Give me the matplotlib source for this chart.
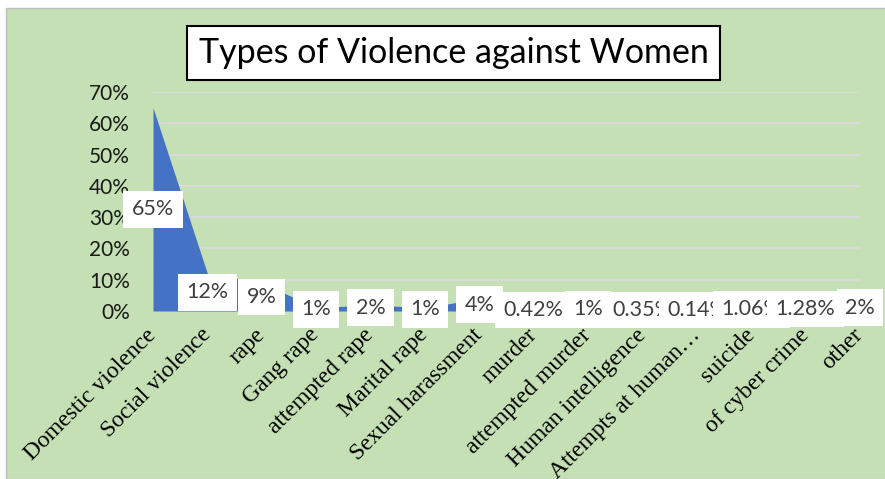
import matplotlib.pyplot as plt
from matplotlib.patches import Rectangle
import numpy as np

categories = ['Domestic violence', 'Social violence', 'rape', 'Gang rape',
              'attempted rape', 'Marital rape', 'Sexual harassment', 'murder',
              'attempted murder', 'Human intelligence', 'Attempts at human…',
              'suicide', 'of cyber crime', 'other']
values = [65, 12, 9, 1, 2, 1, 4, 0.42, 1, 0.35, 0.14, 1.06, 1.28, 2]
value_labels = ['65%', '12%', '9%', '1%', '2%', '1%', '4%', '0.42%', '1%',
                '0.35%', '0.14%', '1.06%', '1.28%', '2%']
yticks = [0, 10, 20, 30, 40, 50, 60, 70]

green = '#C5E0B4'
blue = '#4472C4'

fig = plt.figure(figsize=(8.85, 4.79), dpi=100)
fig.patch.set_facecolor('white')
# fond vert du graphique
fig.patches.append(Rectangle((6 / 885, 0), 1, 1 - 8 / 479, transform=fig.transFigure,
                             facecolor=green, edgecolor='#BFBFBF', linewidth=1, zorder=-10))

ax = fig.add_axes([153 / 885, 1 - 311 / 479, 707 / 885, 219 / 479])
ax.set_facecolor('none')
x = np.arange(len(categories))
ax.fill_between(x, values, 0, color=blue, linewidth=0, zorder=2)

ax.set_xlim(0, len(categories) - 1)
ax.set_ylim(0, 70)
ax.set_yticks(yticks)
ax.set_yticklabels([f'{t}%' for t in yticks], family='Lato', fontsize=15, color='#1a1a1a')
for t in yticks[1:]:
    ax.axhline(t, color='#D9D9D9', linewidth=1.6, zorder=1)
for s in ax.spines.values():
    s.set_visible(False)
ax.tick_params(axis='both', length=0)
ax.tick_params(axis='y', pad=16.5)
ax.set_xticks(x)
ax.set_xticklabels(categories, rotation=45, ha='right', va='center', rotation_mode='anchor',
                   family='Liberation Serif', fontsize=17, color='black')
ax.tick_params(axis='x', pad=15)

for xi, v, lab in zip(x, values, value_labels):
    ax.text(xi, max(v / 2, 0.3), lab, ha='center', va='center', family='Lato',
            fontsize=15.5, color='#404040', zorder=5, clip_on=False,
            bbox=dict(facecolor='white', edgecolor='none', pad=6))

fig.text(453.5 / 885, 1 - 53 / 479, 'Types of Violence against Women', ha='center', va='center',
         family='Lato', fontsize=24.5, color='black',
         bbox=dict(facecolor='white', edgecolor='black', linewidth=1.5, pad=8))

fig.savefig('out.png', dpi=100)
